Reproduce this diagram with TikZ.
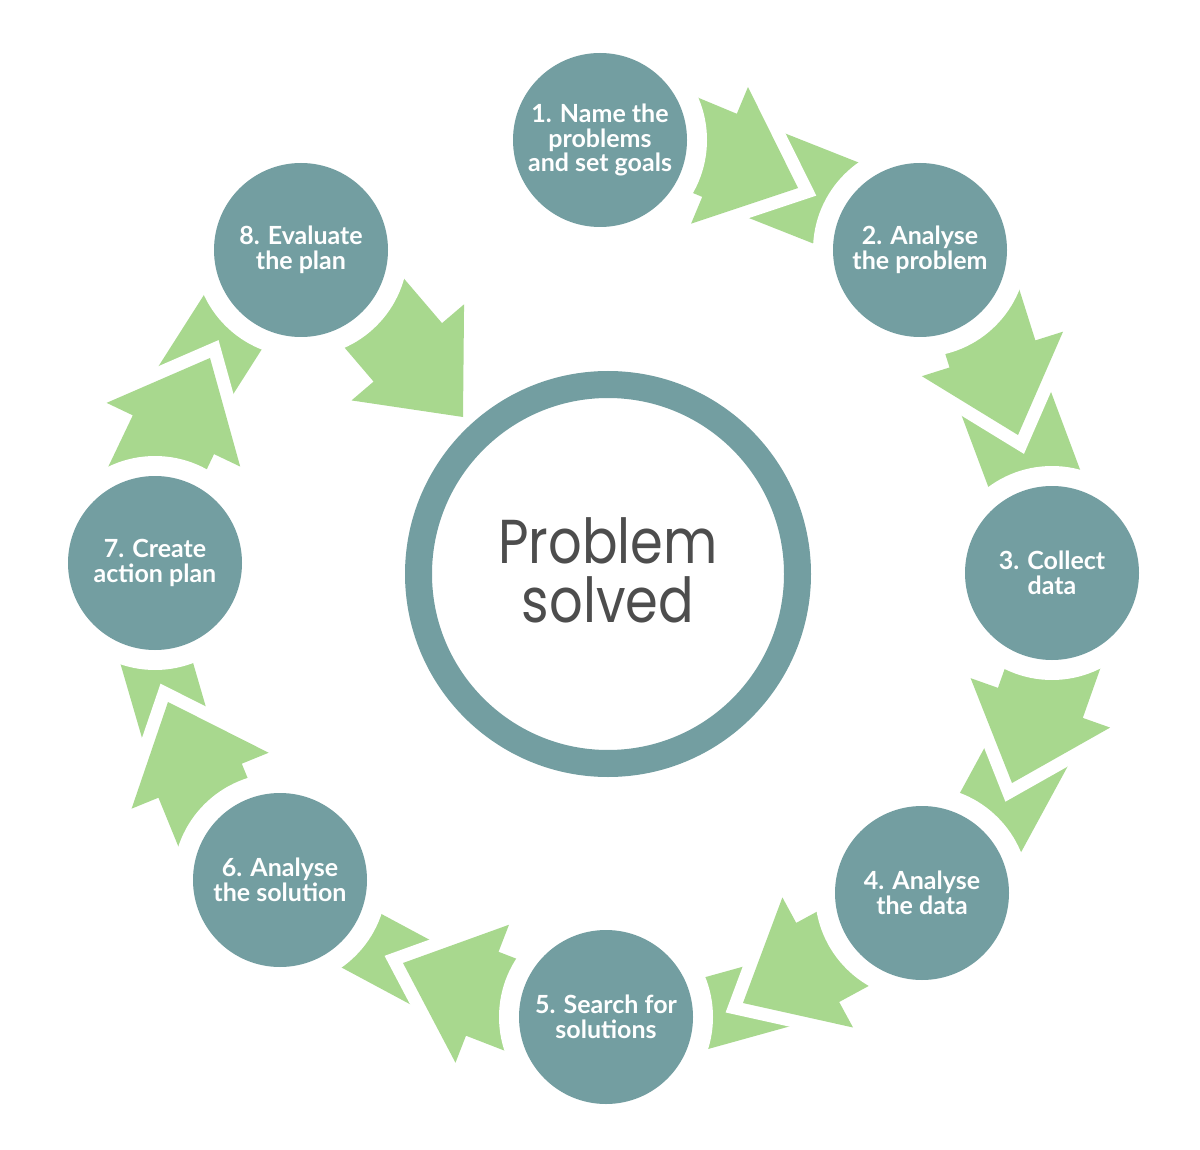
\documentclass[tikz,border=0pt]{standalone}
\usepackage{fontspec}
\setmainfont{Lato}
\newfontfamily\centerfont[FakeStretch=0.85]{Poppins}
\definecolor{stepteal}{HTML}{739EA1}
\definecolor{arrowgreen}{HTML}{A8D88E}
\definecolor{textgray}{HTML}{4D4D4D}
% arrow head piece: tip at (#1,#2), image angle #3, shaft back length #4
\newcommand\arrowhead[4]{%
  \begin{scope}[shift={(#1,#2)}, rotate=-#3]
    \draw[white, line width=26pt, line join=miter, miter limit=10]
      (0,0) -- (-85,74) -- (-85,45) -- (-#4,45) -- (-#4,-45) -- (-85,-45) -- (-85,-74) -- cycle;
    \fill[arrowgreen]
      (0,0) -- (-85,74) -- (-85,45) -- (-#4,45) -- (-#4,-45) -- (-85,-45) -- (-85,-74) -- cycle;
  \end{scope}}
% following strip piece behind the head: pivot (#1,#2), angle #3, half width #4
\newcommand\arrowstrip[4]{%
  \begin{scope}[shift={(#1,#2)}, rotate=-#3]
    \fill[arrowgreen] (-85,-#4) rectangle (136,#4);
  \end{scope}}
\begin{document}
\begin{tikzpicture}[x=1pt,y=-1pt,
  stepcircle/.style={circle, fill=stepteal, minimum size=174pt, inner sep=0pt,
    text=white, font=\fontsize{25}{24.5}\selectfont\bfseries, align=center},
  halo/.style={fill=white},
  centertext/.style={anchor=base, text=textgray, inner sep=0pt,
    font=\centerfont\fontsize{62}{62}\selectfont}]
\useasboundingbox[fill=white] (0,0) rectangle (1200,1150);

% strips (second piece of each double arrow)
\arrowstrip{798}{188}{21.6}{46}
\arrowstrip{1018}{435}{69.5}{46}
\arrowstrip{1012}{783}{118.5}{41}
\arrowstrip{743}{1003}{164.5}{35}
\arrowstrip{403}{963}{208.2}{33}
\arrowstrip{168}{702}{253.8}{35}
\arrowstrip{210}{358}{302.5}{39}

% heads
\arrowhead{798}{188}{22.6}{208}
\arrowhead{1018}{435}{72.5}{208}
\arrowhead{1012}{783}{109.5}{208}
\arrowhead{743}{1003}{151.5}{208}
\arrowhead{403}{963}{201.2}{208}
\arrowhead{168}{702}{247.8}{208}
\arrowhead{210}{358}{295.5}{208}
\arrowhead{463}{417}{49.5}{232}

% halos
\foreach \p in {(600,140),(920,250),(1052,573),(922,893),(606,1017),(280,880),(155,563),(301,250)}
  \fill[halo] \p circle (107);

% step circles
\node[stepcircle] (c1) at (600,140) {1. Name the\\problems\\and set goals};
\node[stepcircle] (c2) at (920,250) {2. Analyse\\the problem};
\node[stepcircle] (c3) at (1052,573) {3. Collect\\data};
\node[stepcircle] (c4) at (922,893) {4. Analyse\\the data};
\node[stepcircle] (c5) at (606,1017) {5. Search for\\solutions};
\node[stepcircle] (c6) at (280,880) {6. Analyse\\the solution};
\node[stepcircle] (c7) at (155,563) {7. Create\\action plan};
\node[stepcircle] (c8) at (301,250) {8. Evaluate\\the plan};

% centre ring
\node[circle, draw=stepteal, line width=27pt, minimum size=379pt, inner sep=0pt] (ring) at (608,574) {};
\node[centertext] (t1) at (608,563) {Problem};
\node[centertext] (t2) at (608,622) {solved};
\end{tikzpicture}
\end{document}
